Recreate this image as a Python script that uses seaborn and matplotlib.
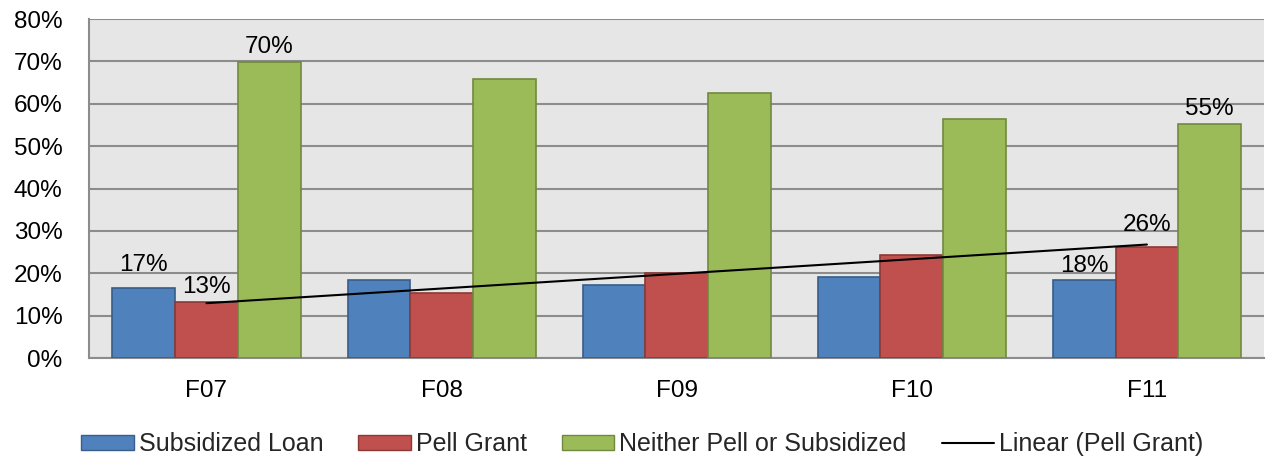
import numpy as np
import pandas as pd
import matplotlib
matplotlib.use("Agg")
import matplotlib.pyplot as plt
import seaborn as sns
from matplotlib.patches import Patch
from matplotlib.lines import Line2D

categories = ["F07", "F08", "F09", "F10", "F11"]
subsidized_loan = [16.6, 18.5, 17.3, 19.2, 18.3]
pell_grant = [13.3, 15.4, 20.1, 24.4, 26.1]
neither = [69.9, 65.9, 62.6, 56.4, 55.3]
series_names = ["Subsidized Loan", "Pell Grant", "Neither Pell or Subsidized"]
labels_shown = {("F07", 0): "17%", ("F07", 1): "13%", ("F07", 2): "70%",
                ("F11", 0): "18%", ("F11", 1): "26%", ("F11", 2): "55%"}
# extra vertical offset (in data units) for labels lifted above the trend line
label_lift = {("F07", 0): 2.0, ("F11", 1): 2.0}

face_colors = ["#4F81BD", "#C0504D", "#9BBB59"]
edge_colors = ["#385D8A", "#8C3836", "#71893F"]

sns.set_theme(style="white")
plt.rcParams["font.family"] = ["Liberation Sans", "DejaVu Sans"]

df = pd.DataFrame({
    "cat": categories * 3,
    "series": sum([[s] * len(categories) for s in series_names], []),
    "value": subsidized_loan + pell_grant + neither,
})

fig = plt.figure(figsize=(12.67, 4.58), dpi=100)
ax = fig.add_axes([0.0702, 0.2183, 0.9278, 0.7402])
ax.set_facecolor("#E6E6E6")

sns.barplot(data=df, x="cat", y="value", hue="series", order=categories,
            hue_order=series_names, palette=face_colors, width=0.8,
            saturation=1, ax=ax, legend=False, zorder=3)

for i, cont in enumerate(ax.containers):
    for p in cont.patches:
        p.set_edgecolor(edge_colors[i])
        p.set_linewidth(1.2)
    for j, p in enumerate(cont.patches):
        key = (categories[j], i)
        if key in labels_shown:
            ax.text(p.get_x() + p.get_width() / 2,
                    p.get_height() + 0.8 + label_lift.get(key, 0.0),
                    labels_shown[key], ha="center", va="bottom",
                    fontsize=17.5, color="black", zorder=5)

# linear trend of Pell Grant
xs = np.arange(len(categories))
coef = np.polyfit(xs, pell_grant, 1)
red_cont = ax.containers[1]
xcent = np.array([p.get_x() + p.get_width() / 2 for p in red_cont.patches])
ax.plot(xcent, np.polyval(coef, xs), color="black", lw=1.5, zorder=4)

ax.set_ylim(0, 80)
ax.set_xlim(-0.5, len(categories) - 0.5)
ax.set_yticks(np.arange(0, 81, 10))
ax.set_yticklabels([f"{v}%" for v in range(0, 81, 10)])
ax.yaxis.grid(True, color="#8C8C8C", lw=1.5, zorder=0)
ax.set_axisbelow(True)
ax.set_xlabel("")
ax.set_ylabel("")
ax.tick_params(axis="both", labelsize=17.5, length=0, colors="black")
ax.tick_params(axis="x", pad=16)
ax.tick_params(axis="y", pad=19)
for s in ["top", "right"]:
    ax.spines[s].set_visible(False)
for s in ["left", "bottom"]:
    ax.spines[s].set_color("#8C8C8C")
    ax.spines[s].set_linewidth(1.5)

handles = [Patch(facecolor=face_colors[i], edgecolor=edge_colors[i], label=series_names[i])
           for i in range(3)]
handles.append(Line2D([0], [0], color="black", lw=1.5, label="Linear (Pell Grant)"))
fig.legend(handles=handles, loc="lower center", bbox_to_anchor=(0.507, -0.045), ncol=4,
           frameon=False, fontsize=18, handlelength=2.1, handleheight=0.55,
           handletextpad=0.2, columnspacing=1.4)

fig.savefig("out.png", dpi=100)
